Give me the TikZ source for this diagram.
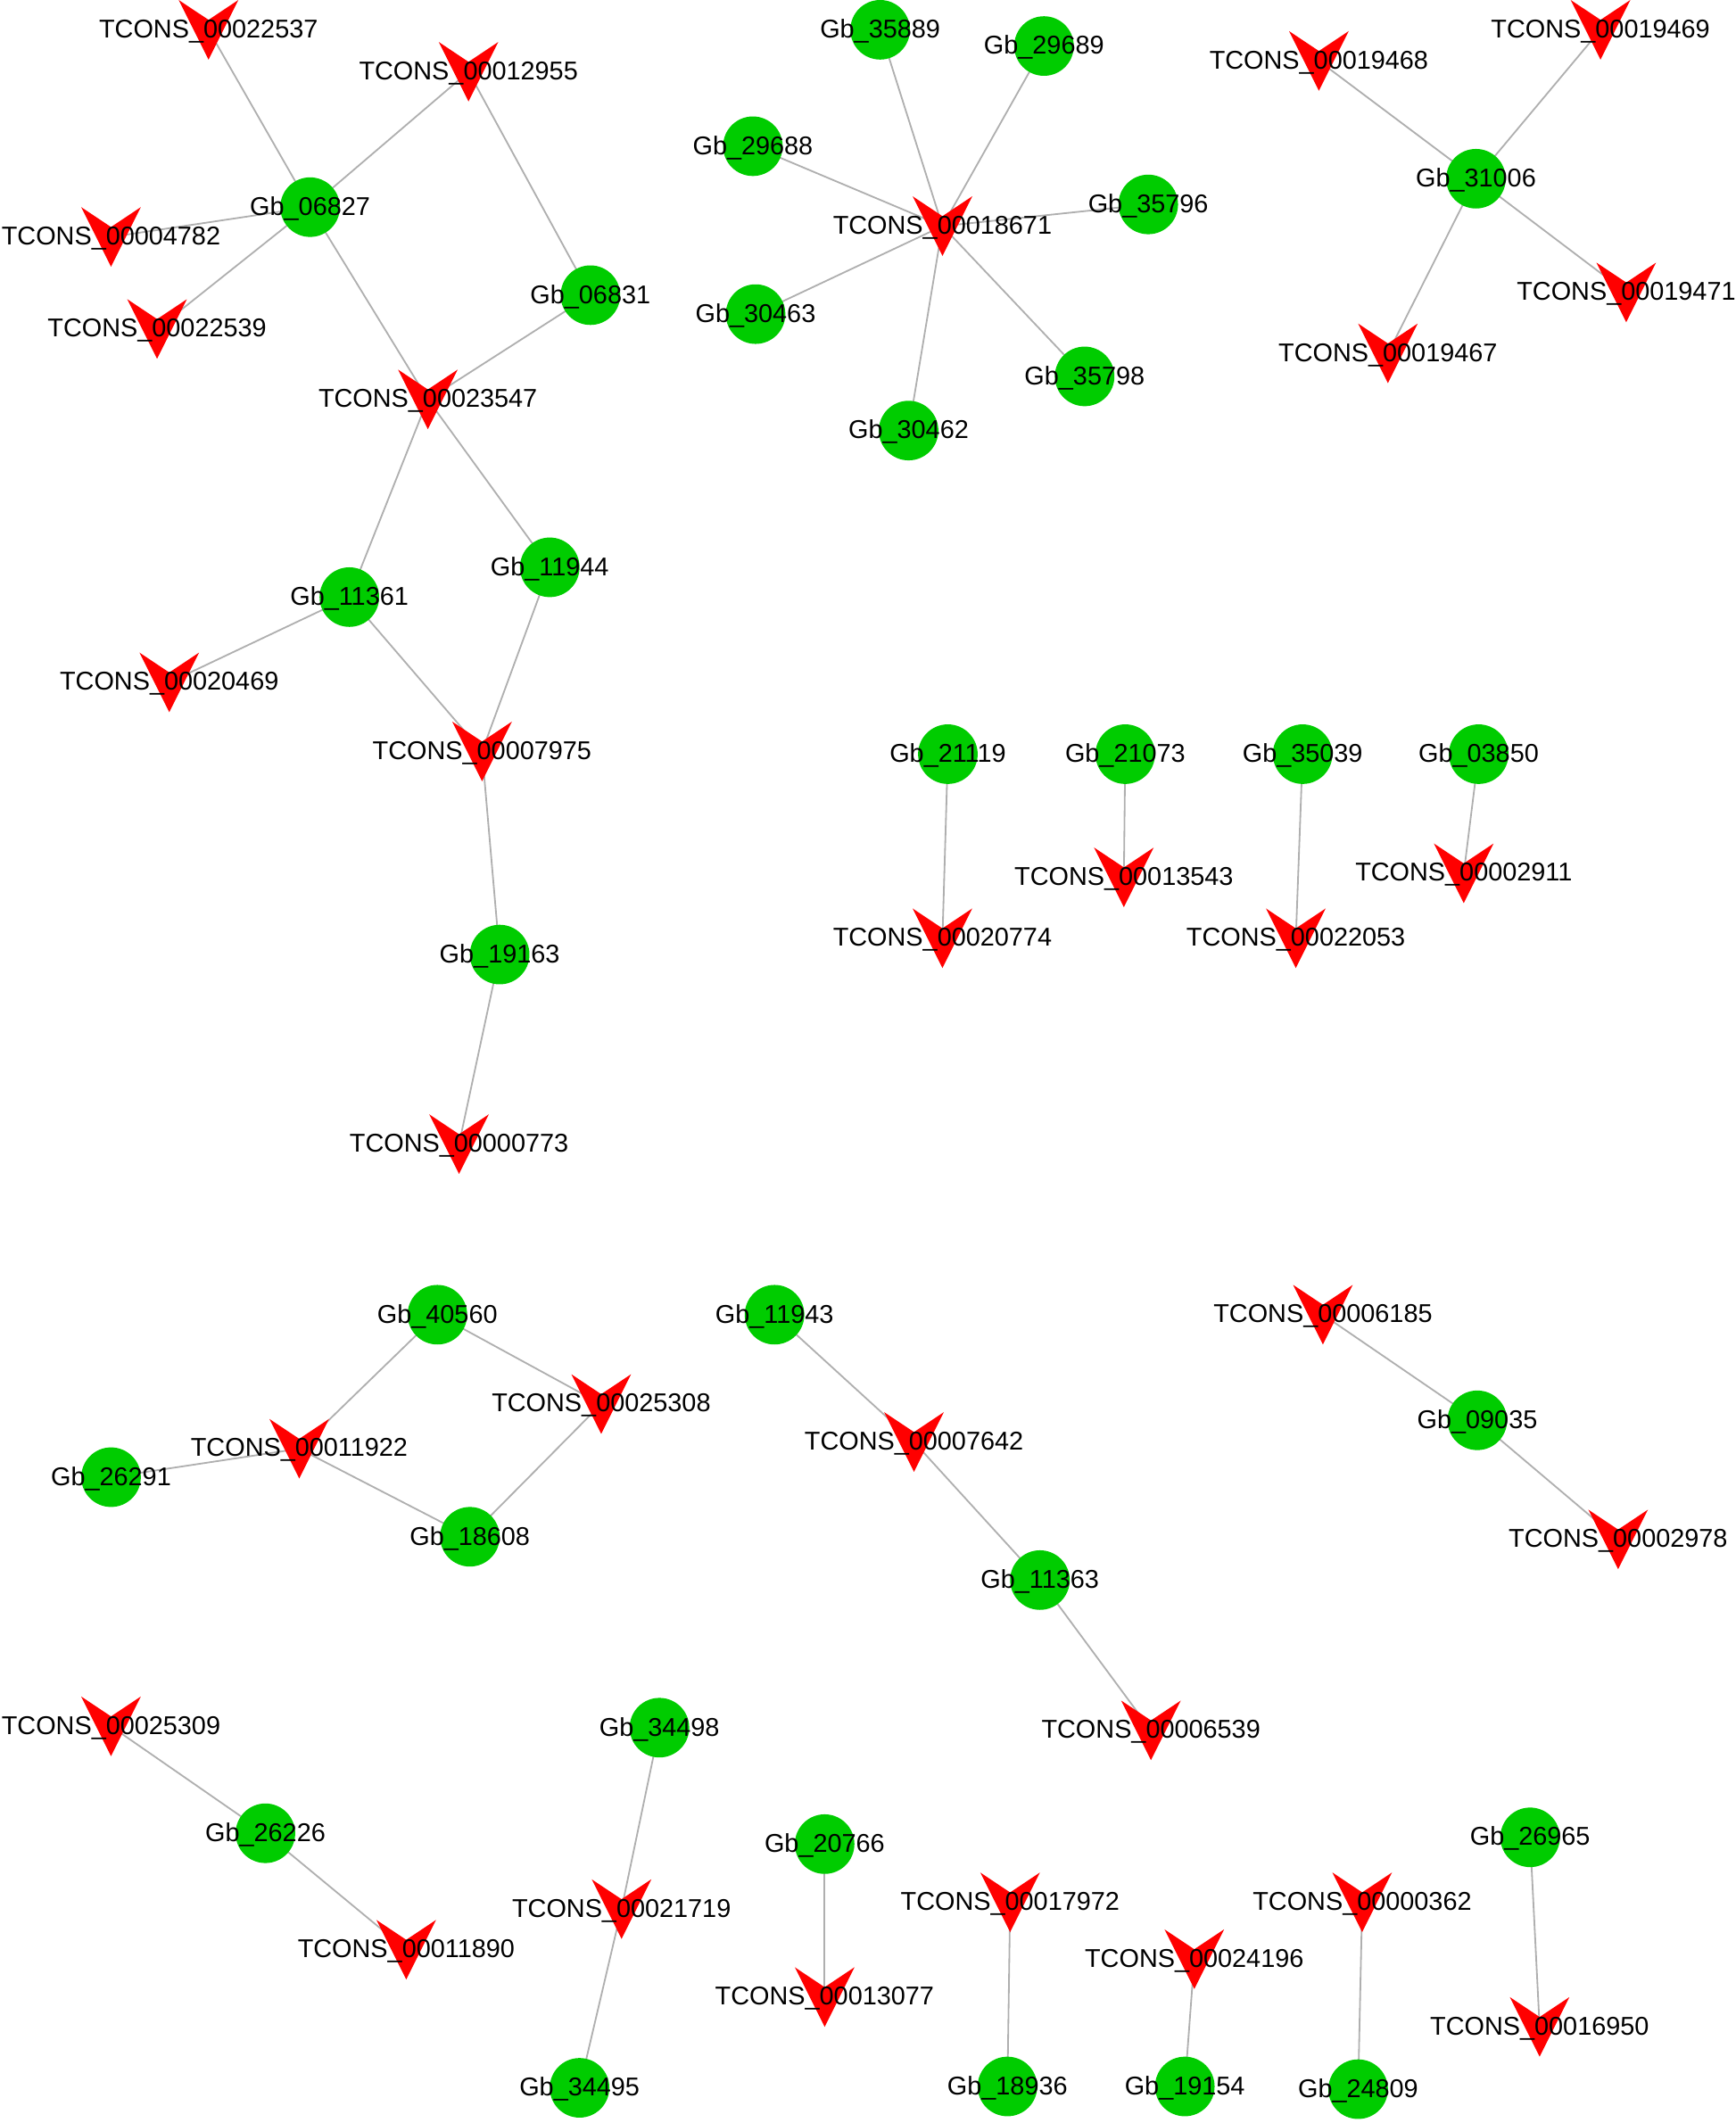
\documentclass[tikz,border=0pt]{standalone}
\usepackage{fontspec}
\setmainfont{Liberation Sans}
\usetikzlibrary{backgrounds}
\definecolor{gbgreen}{RGB}{0,204,0}
\definecolor{tcred}{RGB}{255,0,0}
\definecolor{linkgray}{RGB}{175,175,175}
\tikzset{
  gb/.style={circle, fill=gbgreen, minimum size=22pt, inner sep=0pt,
    label={center:Gb\_#1}},
  tc/.style={rectangle, minimum size=22pt, inner sep=0pt,
    path picture={
      \fill[tcred] (path picture bounding box.north west)
        -- ([yshift=3.67pt]path picture bounding box.center)
        -- (path picture bounding box.north east)
        -- (path picture bounding box.south) -- cycle;},
    label={center:TCONS\_#1}},
  link/.style={draw=linkgray, line width=0.6pt},
  every label/.style={font=\fontsize{9.5}{11}\selectfont, inner sep=0pt,
    text depth=0pt, yshift=0.4pt}
}
\begin{document}
\begin{tikzpicture}[x=0.5pt, y=-0.5pt]
    % 画布
    \useasboundingbox (0,0) rectangle (1282,1568);
    % 左上网络
    \node[tc=00022537] (t22537) at (154,22) {};
    \node[tc=00012955] (t12955) at (346,53) {};
    \node[tc=00004782] (t04782) at (82,175) {};
    \node[tc=00022539] (t22539) at (116,243) {};
    \node[tc=00023547] (t23547) at (316,295) {};
    \node[tc=00020469] (t20469) at (125,504) {};
    \node[tc=00007975] (t07975) at (356,555) {};
    \node[tc=00000773] (t00773) at (339,845) {};
    \node[gb=06827] (g06827) at (229,153) {};
    \node[gb=06831] (g06831) at (436,218) {};
    \node[gb=11361] (g11361) at (258,441) {};
    \node[gb=11944] (g11944) at (406,419) {};
    \node[gb=19163] (g19163) at (369,705) {};
    % 中上星形
    \node[tc=00018671] (t18671) at (696,167) {};
    \node[gb=35889] (g35889) at (650,22) {};
    \node[gb=29689] (g29689) at (771,34) {};
    \node[gb=29688] (g29688) at (556,108) {};
    \node[gb=35796] (g35796) at (848,151) {};
    \node[gb=30463] (g30463) at (558,232) {};
    \node[gb=35798] (g35798) at (801,278) {};
    \node[gb=30462] (g30462) at (671,318) {};
    % 右上星形
    \node[gb=31006] (g31006) at (1090,132) {};
    \node[tc=00019468] (t19468) at (974,45) {};
    \node[tc=00019469] (t19469) at (1182,22) {};
    \node[tc=00019471] (t19471) at (1201,216) {};
    \node[tc=00019467] (t19467) at (1025,261) {};
    % 中部成对
    \node[gb=21119] (g21119) at (700,557) {};
    \node[gb=21073] (g21073) at (831,557) {};
    \node[gb=35039] (g35039) at (962,557) {};
    \node[gb=03850] (g03850) at (1092,557) {};
    \node[tc=00020774] (t20774) at (696,693) {};
    \node[tc=00013543] (t13543) at (830,648) {};
    \node[tc=00022053] (t22053) at (957,693) {};
    \node[tc=00002911] (t02911) at (1081,645) {};
    % 下部网络
    \node[gb=40560] (g40560) at (323,971) {};
    \node[gb=26291] (g26291) at (82,1091) {};
    \node[gb=18608] (g18608) at (347,1135) {};
    \node[tc=00011922] (t11922) at (221,1070) {};
    \node[tc=00025308] (t25308) at (444,1037) {};
    \node[gb=11943] (g11943) at (572,971) {};
    \node[tc=00007642] (t07642) at (675,1065) {};
    \node[gb=11363] (g11363) at (768,1167) {};
    \node[tc=00006539] (t06539) at (850,1278) {};
    \node[tc=00006185] (t06185) at (977,971) {};
    \node[gb=09035] (g09035) at (1091,1049) {};
    \node[tc=00002978] (t02978) at (1195,1137) {};
    \node[tc=00025309] (t25309) at (82,1275) {};
    \node[gb=26226] (g26226) at (196,1354) {};
    \node[tc=00011890] (t11890) at (300,1440) {};
    \node[gb=34498] (g34498) at (487,1276) {};
    \node[tc=00021719] (t21719) at (459,1410) {};
    \node[gb=34495] (g34495) at (428,1542) {};
    \node[gb=20766] (g20766) at (609,1362) {};
    \node[tc=00013077] (t13077) at (609,1475) {};
    \node[tc=00017972] (t17972) at (746,1405) {};
    \node[gb=18936] (g18936) at (744,1541) {};
    \node[tc=00024196] (t24196) at (882,1447) {};
    \node[gb=19154] (g19154) at (875,1541) {};
    \node[tc=00000362] (t00362) at (1006,1405) {};
    \node[gb=24809] (g24809) at (1003,1543) {};
    \node[gb=26965] (g26965) at (1130,1357) {};
    \node[tc=00016950] (t16950) at (1137,1497) {};

    % 连线（置于底层）
    \begin{pgfonlayer}{background}
    \foreach \a/\b in {g06827/t22537, g06827/t12955, g06827/t04782,
        g06827/t22539, g06827/t23547, g06831/t12955, g06831/t23547,
        g11361/t23547, g11944/t23547, g11361/t20469, g11361/t07975,
        g11944/t07975, g19163/t07975, g19163/t00773,
        g35889/t18671, g29689/t18671, g29688/t18671, g35796/t18671,
        g30463/t18671, g35798/t18671, g30462/t18671,
        g31006/t19468, g31006/t19469, g31006/t19471, g31006/t19467,
        g21119/t20774, g21073/t13543, g35039/t22053, g03850/t02911,
        g40560/t11922, g40560/t25308, g26291/t11922, g18608/t11922,
        g18608/t25308, g11943/t07642, g11363/t07642, g11363/t06539,
        g09035/t06185, g09035/t02978, g26226/t25309, g26226/t11890,
        g34498/t21719, g34495/t21719, g20766/t13077, g18936/t17972,
        g19154/t24196, g24809/t00362, g26965/t16950}
      \draw[link] (\a.center) -- (\b.center);
    \end{pgfonlayer}
\end{tikzpicture}
\end{document}
